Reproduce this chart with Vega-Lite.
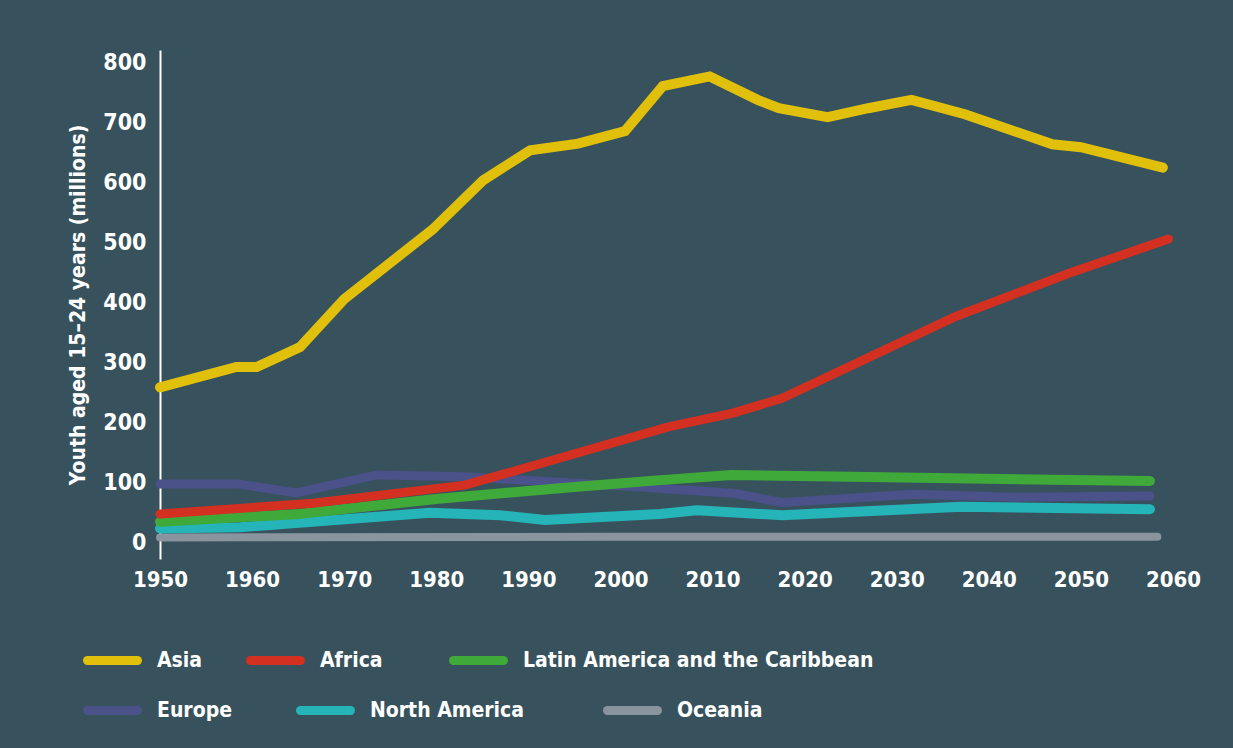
{
  "$schema": "https://vega.github.io/schema/vega-lite/v6.json",
  "width": 1013,
  "height": 509,
  "autosize": {"type": "none"},
  "padding": {"left": 160, "top": 50, "right": 60, "bottom": 189},
  "background": "#37515d",
  "config": {
    "view": {"stroke": null},
    "font": "'DejaVu Sans Condensed', 'Liberation Sans Narrow', sans-serif",
    "legend": {
      "orient": "none",
      "labelColor": "#ffffff",
      "labelFontSize": 21,
      "labelFontWeight": "bold",
      "labelLimit": 500,
      "symbolType": "stroke",
      "symbolSize": 2500,
      "symbolStrokeWidth": 9,
      "labelOffset": 15,
      "padding": 0
    }
  },
  "data": {
    "values": [
      {"region": "Asia", "year": 1950, "value": 258},
      {"region": "Asia", "year": 1958.3, "value": 292},
      {"region": "Asia", "year": 1960.5, "value": 292},
      {"region": "Asia", "year": 1965.2, "value": 325},
      {"region": "Asia", "year": 1970, "value": 405},
      {"region": "Asia", "year": 1979.6, "value": 521},
      {"region": "Asia", "year": 1985.1, "value": 603},
      {"region": "Asia", "year": 1990.2, "value": 653},
      {"region": "Asia", "year": 1995.4, "value": 664},
      {"region": "Asia", "year": 2000.5, "value": 685},
      {"region": "Asia", "year": 2004.6, "value": 760},
      {"region": "Asia", "year": 2009.7, "value": 776},
      {"region": "Asia", "year": 2014.9, "value": 737},
      {"region": "Asia", "year": 2017.2, "value": 723},
      {"region": "Asia", "year": 2022.5, "value": 708},
      {"region": "Asia", "year": 2026.9, "value": 723},
      {"region": "Asia", "year": 2031.6, "value": 737},
      {"region": "Asia", "year": 2037.4, "value": 713},
      {"region": "Asia", "year": 2046.9, "value": 663},
      {"region": "Asia", "year": 2050, "value": 658},
      {"region": "Asia", "year": 2058.9, "value": 624},
      {"region": "Africa", "year": 1950, "value": 47},
      {"region": "Africa", "year": 1966.6, "value": 65},
      {"region": "Africa", "year": 1983.1, "value": 95},
      {"region": "Africa", "year": 2005.2, "value": 192},
      {"region": "Africa", "year": 2012.2, "value": 215},
      {"region": "Africa", "year": 2017.6, "value": 240},
      {"region": "Africa", "year": 2036.4, "value": 376},
      {"region": "Africa", "year": 2048.7, "value": 448},
      {"region": "Africa", "year": 2059.5, "value": 505},
      {"region": "Latin America and the Caribbean", "year": 1950, "value": 34},
      {"region": "Latin America and the Caribbean", "year": 1965, "value": 47},
      {"region": "Latin America and the Caribbean", "year": 1980, "value": 72},
      {"region": "Latin America and the Caribbean", "year": 1995, "value": 92},
      {"region": "Latin America and the Caribbean", "year": 2004, "value": 103},
      {"region": "Latin America and the Caribbean", "year": 2012, "value": 112},
      {"region": "Latin America and the Caribbean", "year": 2025, "value": 109},
      {"region": "Latin America and the Caribbean", "year": 2038, "value": 106},
      {"region": "Latin America and the Caribbean", "year": 2057.5, "value": 102},
      {"region": "Europe", "year": 1950, "value": 97},
      {"region": "Europe", "year": 1958.5, "value": 97},
      {"region": "Europe", "year": 1964.8, "value": 82},
      {"region": "Europe", "year": 1973.5, "value": 112},
      {"region": "Europe", "year": 1983.1, "value": 109},
      {"region": "Europe", "year": 1987.6, "value": 105},
      {"region": "Europe", "year": 2002.1, "value": 92},
      {"region": "Europe", "year": 2012.5, "value": 81},
      {"region": "Europe", "year": 2017.6, "value": 66},
      {"region": "Europe", "year": 2031.8, "value": 80},
      {"region": "Europe", "year": 2042.8, "value": 75},
      {"region": "Europe", "year": 2057.5, "value": 77},
      {"region": "North America", "year": 1950, "value": 23},
      {"region": "North America", "year": 1958.7, "value": 25},
      {"region": "North America", "year": 1979.3, "value": 49},
      {"region": "North America", "year": 1986.9, "value": 45},
      {"region": "North America", "year": 1991.8, "value": 37},
      {"region": "North America", "year": 2004.3, "value": 47},
      {"region": "North America", "year": 2008.3, "value": 53},
      {"region": "North America", "year": 2017.6, "value": 45},
      {"region": "North America", "year": 2037, "value": 59},
      {"region": "North America", "year": 2057.5, "value": 55},
      {"region": "Oceania", "year": 1950, "value": 8},
      {"region": "Oceania", "year": 2000, "value": 9},
      {"region": "Oceania", "year": 2058.3, "value": 9}
    ]
  },
  "encoding": {
    "x": {
      "field": "year",
      "type": "quantitative",
      "scale": {"domain": [1950, 2060], "nice": false, "zero": false},
      "axis": {
        "title": null,
        "values": [1950, 1960, 1970, 1980, 1990, 2000, 2010, 2020, 2030, 2040, 2050, 2060],
        "format": "d",
        "domain": false,
        "ticks": false,
        "grid": false,
        "labelColor": "#ffffff",
        "labelFontSize": 22,
        "labelFontWeight": "bold",
        "labelPadding": 10,
        "labelFlush": false
      }
    },
    "y": {
      "field": "value",
      "type": "quantitative",
      "scale": {"domain": [-28, 820], "nice": false, "zero": false},
      "axis": {
        "title": "Youth aged 15–24 years (millions)",
        "values": [0, 100, 200, 300, 400, 500, 600, 700, 800],
        "domain": true,
        "domainColor": "#ffffff",
        "domainWidth": 2,
        "ticks": false,
        "grid": false,
        "labelColor": "#ffffff",
        "labelFontSize": 23,
        "labelFontWeight": "bold",
        "labelPadding": 14,
        "titleColor": "#ffffff",
        "titleFontSize": 21,
        "titleFontWeight": "bold",
        "titlePadding": 14
      }
    }
  },
  "layer": [
    {
      "transform": [{"filter": "datum.region === 'Europe'"}],
      "mark": {"type": "line", "strokeWidth": 9, "strokeCap": "round"},
      "encoding": {
        "color": {"field": "region", "type": "nominal", "scale": {"domain": ["Europe"], "range": ["#4b5189"]},
          "legend": {"title": null, "orient": "none", "legendX": -77, "legendY": 631, "encode": {"symbols": {"update": {"strokeCap": {"value": "round"}}}}}}
      }
    },
    {
      "transform": [{"filter": "datum.region === 'Oceania'"}],
      "mark": {"type": "line", "strokeWidth": 8, "strokeCap": "round"},
      "encoding": {
        "color": {"field": "region", "type": "nominal", "scale": {"domain": ["Oceania"], "range": ["#8a949e"]},
          "legend": {"title": null, "orient": "none", "legendX": 443, "legendY": 631, "encode": {"symbols": {"update": {"strokeCap": {"value": "round"}}}}}}
      }
    },
    {
      "transform": [{"filter": "datum.region === 'North America'"}],
      "mark": {"type": "line", "strokeWidth": 10, "strokeCap": "round"},
      "encoding": {
        "color": {"field": "region", "type": "nominal", "scale": {"domain": ["North America"], "range": ["#25b4b8"]},
          "legend": {"title": null, "orient": "none", "legendX": 136, "legendY": 631, "encode": {"symbols": {"update": {"strokeCap": {"value": "round"}}}}}}
      }
    },
    {
      "transform": [{"filter": "datum.region === 'Latin America and the Caribbean'"}],
      "mark": {"type": "line", "strokeWidth": 10, "strokeCap": "round"},
      "encoding": {
        "color": {"field": "region", "type": "nominal", "scale": {"domain": ["Latin America and the Caribbean"], "range": ["#3fa93a"]},
          "legend": {"title": null, "orient": "none", "legendX": 289, "legendY": 581, "encode": {"symbols": {"update": {"strokeCap": {"value": "round"}}}}}}
      }
    },
    {
      "transform": [{"filter": "datum.region === 'Africa'"}],
      "mark": {"type": "line", "strokeWidth": 9, "strokeCap": "round"},
      "encoding": {
        "color": {"field": "region", "type": "nominal", "scale": {"domain": ["Africa"], "range": ["#d33021"]},
          "legend": {"title": null, "orient": "none", "legendX": 86, "legendY": 581, "encode": {"symbols": {"update": {"strokeCap": {"value": "round"}}}}}}
      }
    },
    {
      "transform": [{"filter": "datum.region === 'Asia'"}],
      "mark": {"type": "line", "strokeWidth": 10, "strokeCap": "round"},
      "encoding": {
        "color": {"field": "region", "type": "nominal", "scale": {"domain": ["Asia"], "range": ["#e0c00a"]},
          "legend": {"title": null, "orient": "none", "legendX": -77, "legendY": 581, "encode": {"symbols": {"update": {"strokeCap": {"value": "round"}}}}}}
      }
    },
    {
      "data": {"values": [{}]},
      "mark": {"type": "rule", "color": "#ffffff", "strokeWidth": 2},
      "encoding": {
        "x": {"datum": 1949.24, "type": "quantitative"},
        "x2": {"datum": 2060.2},
        "y": {"datum": 0, "type": "quantitative"}
      }
    }
  ],
  "resolve": {"scale": {"color": "independent"}, "legend": {"color": "independent"}}
}
